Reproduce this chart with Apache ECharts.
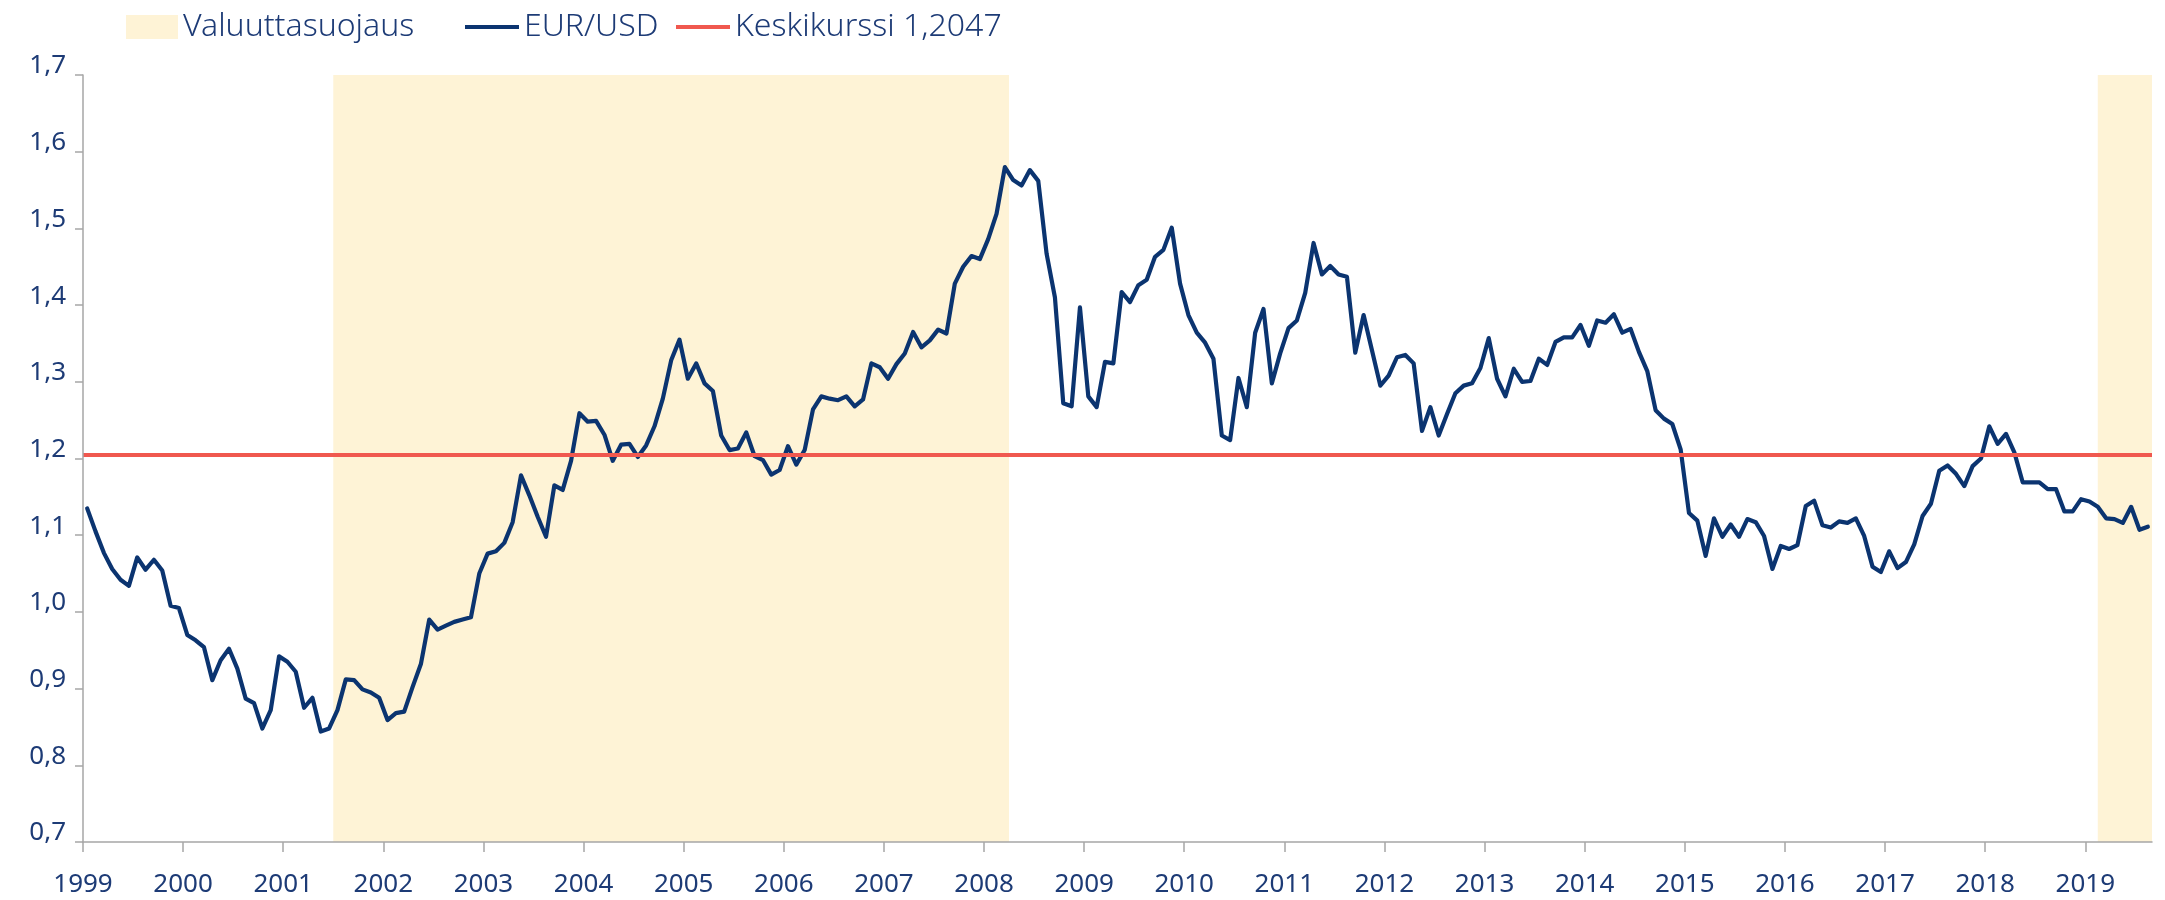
<!DOCTYPE html>
<html>
<head>
<meta charset="utf-8">
<script src="https://cdn.jsdelivr.net/npm/echarts@6/dist/echarts.min.js"></script>
<style>
  html, body { margin: 0; padding: 0; background: #ffffff; }
  #chart { width: 2165px; height: 900px; }
</style>
</head>
<body>
<div id="chart"></div>
<script>
// ---- Data (month-end EUR/USD, Jan 1999 .. Aug 2019) ----
const startYear = 1999;
const eurUsd = [
  // 1999
  1.135, 1.105, 1.077, 1.056, 1.042, 1.034, 1.071, 1.055, 1.068, 1.054, 1.008, 1.005,
  // 2000
  0.970, 0.963, 0.954, 0.911, 0.937, 0.952, 0.926, 0.887, 0.881, 0.848, 0.872, 0.942,
  // 2001
  0.935, 0.922, 0.875, 0.888, 0.844, 0.848, 0.872, 0.912, 0.911, 0.899, 0.895, 0.888,
  // 2002
  0.859, 0.868, 0.870, 0.902, 0.932, 0.990, 0.977, 0.982, 0.987, 0.990, 0.993, 1.050,
  // 2003
  1.076, 1.079, 1.090, 1.117, 1.178, 1.152, 1.124, 1.098, 1.165, 1.159, 1.197, 1.259,
  // 2004
  1.248, 1.249, 1.231, 1.197, 1.218, 1.219, 1.202, 1.217, 1.242, 1.278, 1.328, 1.355,
  // 2005
  1.304, 1.324, 1.298, 1.288, 1.230, 1.211, 1.213, 1.234, 1.203, 1.198, 1.179, 1.185,
  // 2006
  1.216, 1.192, 1.211, 1.264, 1.281, 1.278, 1.276, 1.281, 1.268, 1.277, 1.324, 1.319,
  // 2007
  1.304, 1.323, 1.337, 1.365, 1.345, 1.354, 1.368, 1.363, 1.428, 1.450, 1.464, 1.460,
  // 2008
  1.486, 1.519, 1.580, 1.563, 1.556, 1.576, 1.562, 1.467, 1.410, 1.272, 1.268, 1.397,
  // 2009
  1.281, 1.267, 1.326, 1.324, 1.417, 1.404, 1.426, 1.433, 1.463, 1.472, 1.501, 1.428,
  // 2010
  1.387, 1.364, 1.351, 1.330, 1.230, 1.224, 1.305, 1.267, 1.364, 1.395, 1.298, 1.337,
  // 2011
  1.370, 1.380, 1.416, 1.481, 1.440, 1.451, 1.440, 1.437, 1.338, 1.387, 1.341, 1.295,
  // 2012
  1.308, 1.332, 1.335, 1.324, 1.236, 1.267, 1.230, 1.258, 1.285, 1.295, 1.298, 1.318,
  // 2013
  1.357, 1.304, 1.281, 1.317, 1.300, 1.301, 1.330, 1.322, 1.352, 1.358, 1.358, 1.374,
  // 2014
  1.347, 1.380, 1.377, 1.388, 1.364, 1.369, 1.339, 1.314, 1.263, 1.252, 1.245, 1.212,
  // 2015
  1.129, 1.119, 1.073, 1.122, 1.098, 1.114, 1.098, 1.121, 1.117, 1.099, 1.056, 1.086,
  // 2016
  1.082, 1.087, 1.138, 1.145, 1.113, 1.110, 1.118, 1.116, 1.122, 1.099, 1.059, 1.052,
  // 2017
  1.079, 1.057, 1.065, 1.088, 1.125, 1.141, 1.184, 1.191, 1.180, 1.164, 1.190, 1.200,
  // 2018
  1.242, 1.219, 1.232, 1.208, 1.169, 1.169, 1.169, 1.160, 1.160, 1.131, 1.131, 1.147,
  // 2019
  1.144, 1.137, 1.122, 1.121, 1.116, 1.137, 1.107, 1.111
];
const averageRate = 1.2047;
const hedgeStarts = [2001.5, 2019.125];
const hedgeEnds = [2008.25, null]; // null = to end of axis
const yearTicks = [1999, 2000, 2001, 2002, 2003, 2004, 2005, 2006, 2007, 2008, 2009,
                   2010, 2011, 2012, 2013, 2014, 2015, 2016, 2017, 2018, 2019];
const legendNames = ['Valuuttasuojaus', 'EUR/USD', 'Keskikurssi 1,2047'];

// ---- Derived ----
const xMin = startYear;
const xMax = startYear + eurUsd.length / 12;
const lineData = eurUsd.map((v, i) => [startYear + (i + 0.5) / 12, v]);
const avgData = [[xMin, averageRate], [xMax, averageRate]];
const hedgeAreas = hedgeStarts.map((s, k) => [{ xAxis: s }, { xAxis: hedgeEnds[k] == null ? xMax : hedgeEnds[k] }]);

const FONT = "'Noto Sans', 'Lato', sans-serif";
const TEXT = '#1d3b76';
const NAVY = '#0b3470';
const RED = '#f0584f';
const CREAM = '#fef3d6';
const AXIS = '#a6a6a6';

const legendText = { fontSize: 32, color: TEXT, fontFamily: FONT, fontWeight: 300, padding: [0, 0, 14, 0] };

const chart = echarts.init(document.getElementById('chart'), null, { renderer: 'canvas' });
chart.setOption({
  animation: false,
  backgroundColor: '#ffffff',
  textStyle: { fontFamily: FONT },
  grid: { left: 83, right: 13, top: 75, bottom: 58, containLabel: false },
  legend: [
    { data: [legendNames[0]], left: 121, top: 6, icon: 'rect', itemWidth: 52, itemHeight: 24,
      textStyle: legendText },
    { data: [legendNames[1]], left: 460, top: 6, icon: 'rect', itemWidth: 54, itemHeight: 4,
      textStyle: legendText },
    { data: [legendNames[2]], left: 671, top: 6, icon: 'rect', itemWidth: 54, itemHeight: 4,
      textStyle: legendText }
  ],
  xAxis: {
    type: 'value', min: xMin, max: xMax, interval: 1, z: 10,
    axisLine: { show: true, lineStyle: { color: AXIS, width: 1.5 } },
    axisTick: { show: true, length: 10, customValues: yearTicks, lineStyle: { color: AXIS, width: 1.5 } },
    axisLabel: { customValues: yearTicks, margin: 30, fontSize: 26, color: TEXT, fontFamily: FONT,
      formatter: v => (Math.abs(v - Math.round(v)) < 1e-6 ? String(Math.round(v)) : '') },
    splitLine: { show: false }
  },
  yAxis: {
    type: 'value', min: 0.7, max: 1.7, interval: 0.1, z: 10,
    axisLine: { show: true, lineStyle: { color: AXIS, width: 1.5 } },
    axisTick: { show: true, length: 8, lineStyle: { color: AXIS, width: 1.5 } },
    axisLabel: { margin: 17, fontSize: 26, color: TEXT, fontFamily: FONT,
      verticalAlign: 'bottom', lineHeight: 18,
      formatter: v => v.toFixed(1).replace('.', ',') },
    splitLine: { show: false }
  },
  series: [
    {
      name: legendNames[0], type: 'line', data: [], z: 1,
      itemStyle: { color: CREAM }, lineStyle: { color: CREAM },
      markArea: { silent: true, itemStyle: { color: CREAM }, data: hedgeAreas }
    },
    {
      name: legendNames[1], type: 'line', data: lineData, symbol: 'none', z: 3,
      itemStyle: { color: NAVY },
      lineStyle: { color: NAVY, width: 4.2, join: 'round', cap: 'round' }
    },
    {
      name: legendNames[2], type: 'line', data: avgData, symbol: 'none', z: 4,
      itemStyle: { color: RED },
      lineStyle: { color: RED, width: 4 }
    }
  ]
});
</script>
</body>
</html>
